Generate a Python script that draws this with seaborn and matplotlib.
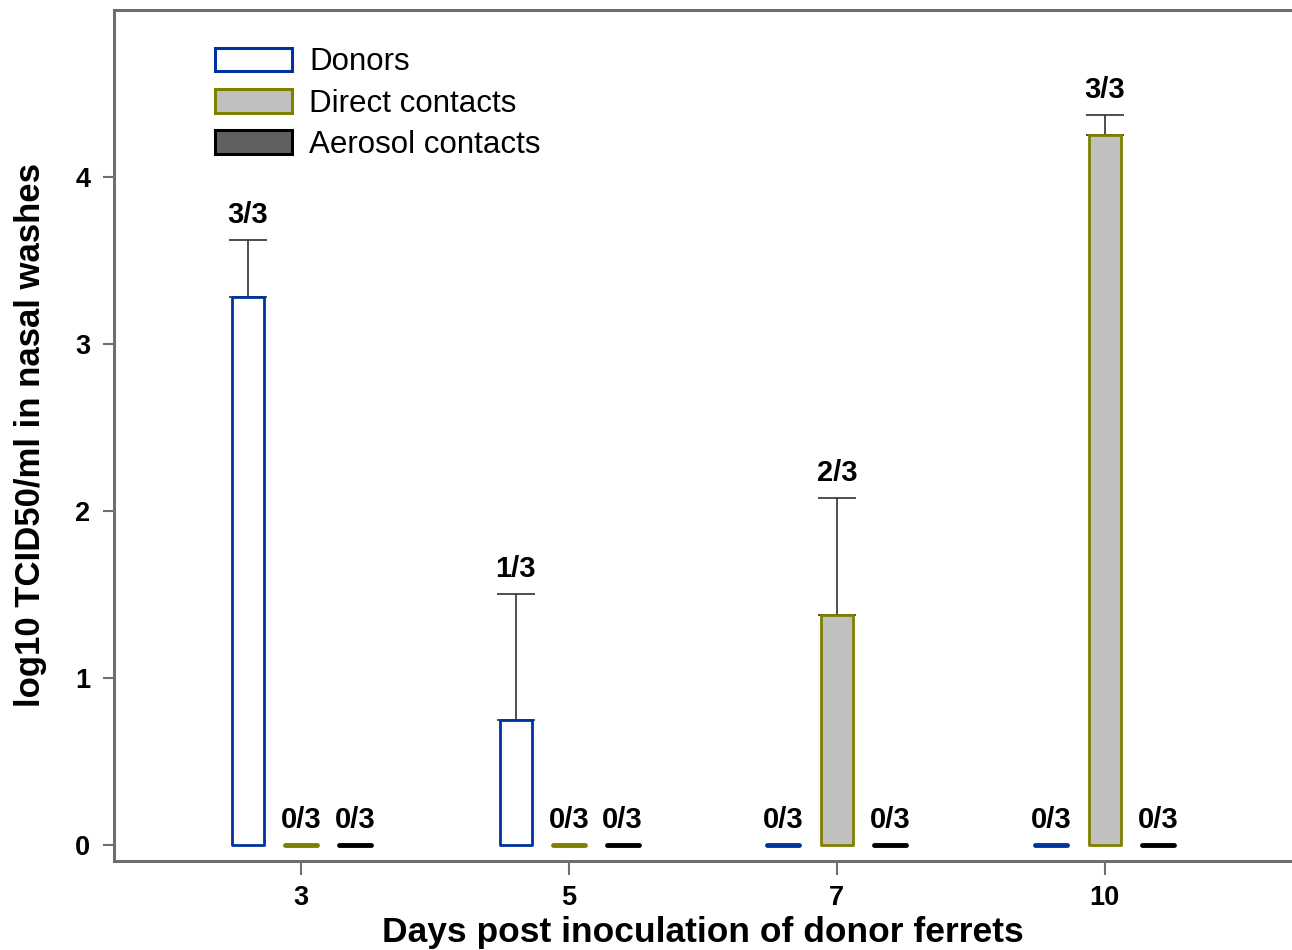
import matplotlib
matplotlib.use("Agg")
import matplotlib.pyplot as plt
import seaborn as sns
import pandas as pd
import numpy as np
from matplotlib.patches import Patch

days = ["3", "5", "7", "10"]
groups = ["Donors", "Direct contacts", "Aerosol contacts"]
donors_mean = [3.28, 0.75, 0.0, 0.0]
donors_err = [0.34, 0.75, 0.0, 0.0]
direct_mean = [0.0, 0.0, 1.38, 4.25]
direct_err = [0.0, 0.0, 0.70, 0.12]
aerosol_mean = [0.0, 0.0, 0.0, 0.0]
aerosol_err = [0.0, 0.0, 0.0, 0.0]
donors_lbl = ["3/3", "1/3", "0/3", "0/3"]
direct_lbl = ["0/3", "0/3", "2/3", "3/3"]
aerosol_lbl = ["0/3", "0/3", "0/3", "0/3"]

fills = ["#FFFFFF", "#C0C0C0", "#606060"]
edges = ["#0033A0", "#808000", "#000000"]

rows = []
for g, m, e, l in [(groups[0], donors_mean, donors_err, donors_lbl),
                   (groups[1], direct_mean, direct_err, direct_lbl),
                   (groups[2], aerosol_mean, aerosol_err, aerosol_lbl)]:
    for d, mv, ev, lv in zip(days, m, e, l):
        rows.append({"day": d, "group": g, "value": mv, "err": ev, "label": lv})
df = pd.DataFrame(rows)

sns.set_theme(style="white")
plt.rcParams['font.family'] = ['Liberation Sans', 'DejaVu Sans']

fig = plt.figure(figsize=(12.92, 9.5), dpi=100)
ax = fig.add_axes([114/1292, 1 - 861/950, 1 - 114/1292, (861 - 10)/950])

sns.barplot(data=df, x="day", y="value", hue="group", order=days, hue_order=groups,
            palette=fills, errorbar=None, width=0.6, gap=0.0, ax=ax, legend=False,
            zorder=3)

for gi, g in enumerate(groups):
    cont = ax.containers[gi]
    sub = df[df.group == g].set_index("day").loc[days]
    for bar, (_, r) in zip(cont, sub.iterrows()):
        cx = bar.get_x() + bar.get_width() / 2
        w = 0.12
        bar.set_x(cx - w / 2)
        bar.set_width(w)
        bar.set_facecolor(fills[gi])
        bar.set_edgecolor(edges[gi])
        bar.set_linewidth(2.0 if r.value > 0 else 3.5)
        bar.set_joinstyle("round")
        bar.set_capstyle("round")
        top = r.value
        if r.err > 0:
            ax.errorbar(cx, r.value, yerr=[[0], [r.err]], fmt="none", ecolor="#303030",
                        elinewidth=1.2, capsize=14, capthick=1.2, zorder=2)
            top = r.value + r.err
        ax.annotate(r.label, (cx, top), xytext=(0, 8), textcoords="offset points",
                    ha="center", va="bottom", fontsize=21, fontweight="bold", color="#000000")

ax.set_xlim(-0.70, 3.70)
ax.set_ylim(-0.096, 5.0)
ax.set_yticks([0, 1, 2, 3, 4])

for s in ["left", "bottom", "top"]:
    ax.spines[s].set_color("#6E6E6E")
    ax.spines[s].set_linewidth(2.2)
ax.spines["right"].set_visible(False)

ax.tick_params(axis="both", which="both", direction="out", colors="#6E6E6E",
               width=1.5, labelcolor="#000000", labelsize=19.5)
ax.tick_params(axis="x", length=10, pad=7)
ax.tick_params(axis="y", length=8, pad=9)
ax.tick_params(left=True, bottom=True)
for t in ax.get_xticklabels() + ax.get_yticklabels():
    t.set_fontweight("bold")

ax.set_xlabel("Days post inoculation of donor ferrets", fontsize=25.5, fontweight="bold",
              color="#000000", labelpad=4)
ax.set_ylabel("log10 TCID50/ml in nasal washes", fontsize=25, fontweight="bold",
              color="#000000", labelpad=20)

handles = [Patch(facecolor=fills[i], edgecolor=edges[i], linewidth=2.2, label=groups[i])
           for i in range(3)]
ax.legend(handles=handles, loc="upper left", bbox_to_anchor=(0.07, 0.978), frameon=False,
          fontsize=22.5, handlelength=2.45, handleheight=0.78, handletextpad=0.55,
          labelspacing=0.36, borderaxespad=0.2, labelcolor="#000000")

fig.savefig("out.png", dpi=100)
